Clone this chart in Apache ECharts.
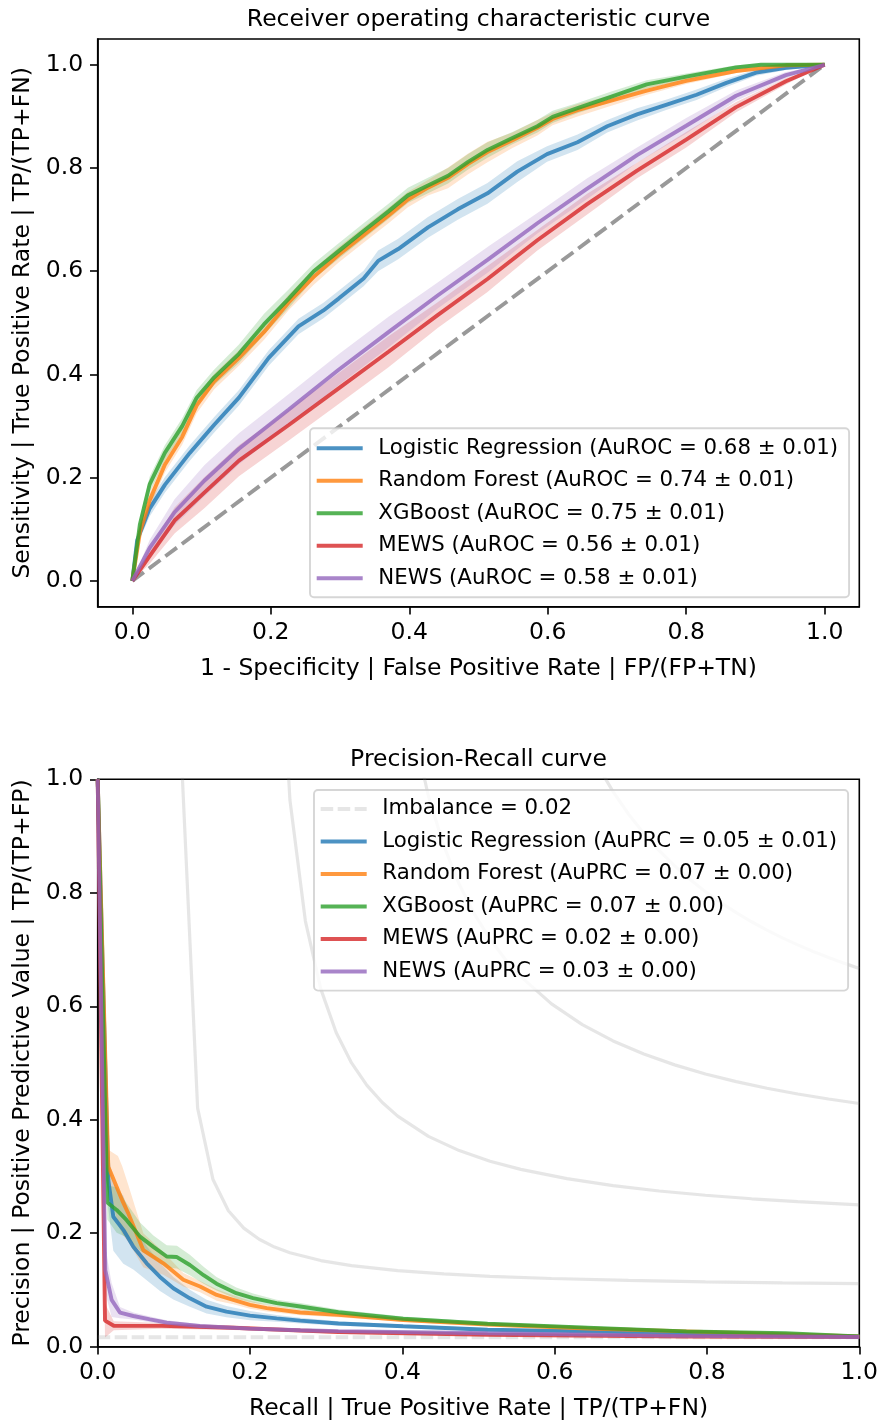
<!DOCTYPE html>
<html><head><meta charset="utf-8">
<script src="https://cdn.jsdelivr.net/npm/echarts@6/dist/echarts.min.js"></script>
<style>html,body{margin:0;padding:0;background:#fff}#c{width:880px;height:1420px}</style>
</head><body><div id="c"></div>
<script>
// ---------------- DATA ----------------
const tickValues = [0, 0.2, 0.4, 0.6, 0.8, 1.0];

const rocTitle = 'Receiver operating characteristic curve';
const rocXName = '1 - Specificity | False Positive Rate | FP/(FP+TN)';
const rocYName = 'Sensitivity | True Positive Rate | TP/(TP+FN)';
const prTitle = 'Precision-Recall curve';
const prXName = 'Recall | True Positive Rate | TP/(TP+FN)';
const prYName = 'Precision | Positive Predictive Value | TP/(TP+FP)';

const rocNames = [
  'Logistic Regression (AuROC = 0.68 ± 0.01)',
  'Random Forest (AuROC = 0.74 ± 0.01)',
  'XGBoost (AuROC = 0.75 ± 0.01)',
  'MEWS (AuROC = 0.56 ± 0.01)',
  'NEWS (AuROC = 0.58 ± 0.01)'
];
const prNames = [
  'Logistic Regression (AuPRC = 0.05 ± 0.01)',
  'Random Forest (AuPRC = 0.07 ± 0.00)',
  'XGBoost (AuPRC = 0.07 ± 0.00)',
  'MEWS (AuPRC = 0.02 ± 0.00)',
  'NEWS (AuPRC = 0.03 ± 0.00)'
];
const imbalanceName = 'Imbalance = 0.02';
const imbalanceX = [0, 1];
const imbalanceY = [0.0166, 0.0166];
const chanceX = [0, 1];
const chanceY = [0, 1];

// ROC: Logistic Regression
const rocLR_x = [0, 0.007, 0.025, 0.047, 0.083, 0.118, 0.154, 0.197, 0.24, 0.276, 0.298, 0.334, 0.355, 0.384, 0.427, 0.47, 0.513, 0.556, 0.599, 0.643, 0.686, 0.729, 0.772, 0.815, 0.858, 0.901, 0.944, 1.0];
const rocLR_y = [0, 0.079, 0.14, 0.186, 0.248, 0.302, 0.355, 0.432, 0.493, 0.524, 0.547, 0.586, 0.62, 0.643, 0.685, 0.72, 0.751, 0.793, 0.827, 0.85, 0.881, 0.904, 0.923, 0.942, 0.965, 0.985, 0.994, 1.0];
const rocLR_sd = [0, 0.01, 0.015, 0.015, 0.015, 0.015, 0.015, 0.015, 0.015, 0.015, 0.015, 0.015, 0.02, 0.02, 0.02, 0.02, 0.02, 0.02, 0.015, 0.015, 0.012, 0.012, 0.01, 0.01, 0.008, 0.006, 0.004, 0];
// ROC: Random Forest
const rocRF_x = [0, 0.011, 0.025, 0.047, 0.072, 0.093, 0.118, 0.154, 0.19, 0.226, 0.262, 0.298, 0.334, 0.37, 0.398, 0.427, 0.456, 0.485, 0.513, 0.549, 0.585, 0.607, 0.643, 0.693, 0.743, 0.80, 0.872, 0.944, 1.0];
const rocRF_y = [0, 0.094, 0.156, 0.225, 0.279, 0.34, 0.386, 0.432, 0.482, 0.54, 0.589, 0.632, 0.67, 0.708, 0.739, 0.762, 0.781, 0.808, 0.831, 0.854, 0.878, 0.895, 0.912, 0.931, 0.95, 0.969, 0.988, 0.999, 1.0];
const rocRF_sd = [0, 0.012, 0.015, 0.015, 0.015, 0.015, 0.015, 0.015, 0.015, 0.015, 0.015, 0.015, 0.015, 0.015, 0.015, 0.015, 0.02, 0.02, 0.02, 0.015, 0.015, 0.012, 0.012, 0.01, 0.008, 0.006, 0.004, 0.002, 0];
// ROC: XGBoost
const rocXGB_x = [0, 0.011, 0.025, 0.047, 0.072, 0.093, 0.118, 0.154, 0.19, 0.226, 0.262, 0.298, 0.334, 0.37, 0.398, 0.427, 0.456, 0.485, 0.513, 0.549, 0.585, 0.607, 0.643, 0.693, 0.743, 0.80, 0.872, 0.908, 1.0];
const rocXGB_y = [0, 0.11, 0.187, 0.248, 0.30, 0.355, 0.394, 0.44, 0.497, 0.547, 0.60, 0.639, 0.678, 0.716, 0.747, 0.766, 0.785, 0.812, 0.835, 0.858, 0.881, 0.899, 0.916, 0.939, 0.962, 0.977, 0.995, 1.0, 1.0];
const rocXGB_sd = [0, 0.012, 0.015, 0.015, 0.015, 0.015, 0.015, 0.018, 0.02, 0.018, 0.015, 0.015, 0.015, 0.015, 0.015, 0.015, 0.015, 0.015, 0.015, 0.012, 0.012, 0.012, 0.01, 0.01, 0.008, 0.006, 0.004, 0.002, 0];
// ROC: MEWS
const rocMEWS_x = [0, 0.025, 0.061, 0.104, 0.154, 0.226, 0.298, 0.37, 0.441, 0.513, 0.585, 0.657, 0.729, 0.80, 0.872, 0.944, 1.0];
const rocMEWS_y = [0, 0.048, 0.117, 0.171, 0.233, 0.302, 0.373, 0.444, 0.515, 0.585, 0.66, 0.73, 0.795, 0.855, 0.918, 0.968, 1.0];
const rocMEWS_sd = [0, 0.015, 0.025, 0.03, 0.03, 0.03, 0.03, 0.03, 0.025, 0.025, 0.02, 0.02, 0.015, 0.015, 0.01, 0.006, 0];
// ROC: NEWS
const rocNEWS_x = [0, 0.025, 0.061, 0.104, 0.154, 0.226, 0.298, 0.37, 0.441, 0.513, 0.585, 0.657, 0.729, 0.80, 0.872, 0.944, 1.0];
const rocNEWS_y = [0, 0.064, 0.133, 0.194, 0.256, 0.332, 0.409, 0.482, 0.553, 0.622, 0.693, 0.76, 0.825, 0.882, 0.94, 0.98, 1.0];
const rocNEWS_sd = [0, 0.015, 0.025, 0.03, 0.03, 0.03, 0.03, 0.03, 0.025, 0.025, 0.02, 0.02, 0.015, 0.015, 0.01, 0.006, 0];

// PR: Logistic Regression
const prLR_x = [0, 0.0139, 0.0205, 0.0336, 0.0468, 0.0643, 0.0818, 0.0993, 0.121, 0.143, 0.169, 0.200, 0.235, 0.266, 0.316, 0.401, 0.512, 0.643, 0.773, 0.903, 1.0];
const prLR_y = [1.0, 0.294, 0.229, 0.206, 0.176, 0.147, 0.123, 0.103, 0.0853, 0.0706, 0.0618, 0.0547, 0.050, 0.046, 0.041, 0.036, 0.030, 0.027, 0.0236, 0.020, 0.018];
const prLR_sd = [0, 0.05, 0.06, 0.06, 0.04, 0.03, 0.025, 0.02, 0.015, 0.012, 0.01, 0.008, 0.006, 0.005, 0.004, 0.003, 0.003, 0.002, 0.002, 0.001, 0];
// PR: Random Forest
const prRF_x = [0, 0.0139, 0.0266, 0.0322, 0.0402, 0.0599, 0.0862, 0.1124, 0.1344, 0.1563, 0.178, 0.200, 0.222, 0.266, 0.316, 0.401, 0.512, 0.643, 0.773, 0.903, 1.0];
const prRF_y = [1.0, 0.317, 0.276, 0.258, 0.235, 0.170, 0.147, 0.118, 0.106, 0.0912, 0.0826, 0.0738, 0.0679, 0.0603, 0.056, 0.047, 0.039, 0.032, 0.027, 0.022, 0.018];
const prRF_sd = [0, 0.03, 0.06, 0.06, 0.05, 0.03, 0.02, 0.012, 0.01, 0.01, 0.008, 0.007, 0.006, 0.005, 0.004, 0.003, 0.003, 0.002, 0.002, 0.001, 0];
// PR: XGBoost
const prXGB_x = [0, 0.0126, 0.0249, 0.038, 0.0556, 0.0731, 0.0906, 0.104, 0.121, 0.139, 0.156, 0.182, 0.204, 0.235, 0.266, 0.316, 0.401, 0.512, 0.643, 0.773, 0.903, 1.0];
const prXGB_y = [1.0, 0.254, 0.241, 0.223, 0.194, 0.176, 0.159, 0.158, 0.144, 0.126, 0.111, 0.0944, 0.0856, 0.0767, 0.0708, 0.0607, 0.0492, 0.0405, 0.0337, 0.027, 0.0236, 0.018];
const prXGB_sd = [0, 0.03, 0.04, 0.03, 0.025, 0.02, 0.02, 0.02, 0.018, 0.015, 0.012, 0.01, 0.008, 0.006, 0.006, 0.005, 0.004, 0.003, 0.003, 0.002, 0.001, 0];
// PR: MEWS
const prMEWS_x = [0, 0.0096, 0.0211, 0.084, 0.178, 0.266, 0.316, 0.512, 0.773, 1.0];
const prMEWS_y = [1.0, 0.046, 0.037, 0.0367, 0.0335, 0.0285, 0.026, 0.021, 0.018, 0.017];
const prMEWS_sd = [0, 0.03, 0.008, 0.005, 0.004, 0.003, 0.003, 0.002, 0.001, 0];
// PR: NEWS
const prNEWS_x = [0, 0.0100, 0.0183, 0.0293, 0.0468, 0.0687, 0.0906, 0.134, 0.200, 0.266, 0.316, 0.512, 0.773, 1.0];
const prNEWS_y = [1.0, 0.135, 0.0824, 0.060, 0.0541, 0.0482, 0.0424, 0.0365, 0.0318, 0.0289, 0.0275, 0.0236, 0.019, 0.017];
const prNEWS_sd = [0, 0.04, 0.03, 0.01, 0.006, 0.005, 0.004, 0.003, 0.003, 0.002, 0.002, 0.002, 0.001, 0];

// iso-F1 reference curves (recall, precision) for F1 = 0.2, 0.4, 0.6, 0.8
const isoF1_02 = [[0.1110,1.009],[0.1312,0.4205],[0.1514,0.2946],[0.1716,0.2397],[0.1918,0.2089],[0.2120,0.1893],[0.2322,0.1756],[0.2524,0.1656],[0.2929,0.1518],[0.3333,0.1429],[0.3939,0.1340],[0.4545,0.1282],[0.5151,0.1241],[0.5959,0.1202],[0.6969,0.1168],[0.7980,0.1143],[0.8990,0.1125],[1.0,0.1111]];
const isoF1_04 = [[0.2120,3.533],[0.2322,1.442],[0.2524,0.9634],[0.2727,0.7502],[0.2929,0.6306],[0.3131,0.5537],[0.3333,0.5001],[0.3535,0.4606],[0.3737,0.4303],[0.3939,0.4063],[0.4343,0.3707],[0.4747,0.3456],[0.5151,0.3269],[0.5555,0.3125],[0.6161,0.2961],[0.6767,0.2839],[0.7373,0.2744],[0.7980,0.2669],[0.8586,0.2607],[0.9192,0.2556],[1.0,0.25]];
const isoF1_06 = [[0.3131,7.17],[0.3333,3.003],[0.3535,1.982],[0.3737,1.521],[0.3939,1.258],[0.4141,1.089],[0.4343,0.9701],[0.4545,0.8825],[0.4747,0.8152],[0.4949,0.7618],[0.5151,0.7184],[0.5353,0.6825],[0.5555,0.6523],[0.5959,0.6042],[0.6363,0.5676],[0.6767,0.5389],[0.7171,0.5158],[0.7576,0.4967],[0.7980,0.4807],[0.8384,0.4672],[0.8788,0.4555],[0.9192,0.4453],[0.9596,0.4365],[1.0,0.4286]];
const isoF1_08 = [[0.4141,11.75],[0.4343,5.065],[0.4545,3.336],[0.4747,2.542],[0.4949,2.086],[0.5151,1.790],[0.5353,1.583],[0.5555,1.429],[0.5757,1.311],[0.5959,1.217],[0.6161,1.140],[0.6363,1.077],[0.6565,1.024],[0.6767,0.9782],[0.6969,0.9389],[0.7171,0.9046],[0.7373,0.8744],[0.7576,0.8474],[0.7778,0.8235],[0.7980,0.8020],[0.8182,0.7826],[0.8384,0.7650],[0.8586,0.7489],[0.8788,0.7342],[0.8990,0.7206],[0.9192,0.7082],[0.9394,0.6966],[0.9596,0.6859],[0.9798,0.6760],[1.0,0.6667]];

// ---------------- STYLE / BUILD ----------------
const F = 'DejaVu Sans';
const RGB = ['31,119,180', '255,127,14', '44,160,44', '214,39,40', '148,103,189'];
const LW = 3.9;

const rocSets = [[rocLR_x, rocLR_y, rocLR_sd], [rocRF_x, rocRF_y, rocRF_sd], [rocXGB_x, rocXGB_y, rocXGB_sd], [rocMEWS_x, rocMEWS_y, rocMEWS_sd], [rocNEWS_x, rocNEWS_y, rocNEWS_sd]];
const prSets = [[prLR_x, prLR_y, prLR_sd], [prRF_x, prRF_y, prRF_sd], [prXGB_x, prXGB_y, prXGB_sd], [prMEWS_x, prMEWS_y, prMEWS_sd], [prNEWS_x, prNEWS_y, prNEWS_sd]];

function pairs(xs, ys) { return xs.map((x, i) => [x, ys[i]]); }

function band(xs, ys, sd, rgb, ax) {
  return {
    type: 'custom', xAxisIndex: ax, yAxisIndex: ax, silent: true, clip: true, z: 1,
    data: [[xs[0], ys[0]]],
    renderItem: function (params, api) {
      const pts = [];
      for (let i = 0; i < xs.length; i++) pts.push(api.coord([xs[i], ys[i] + sd[i]]));
      for (let i = xs.length - 1; i >= 0; i--) pts.push(api.coord([xs[i], ys[i] - sd[i]]));
      return { type: 'polygon', shape: { points: pts }, style: { fill: 'rgba(' + rgb + ',0.2)' } };
    }
  };
}
function line(name, data, color, ax, extra) {
  return Object.assign({
    type: 'line', name: name, xAxisIndex: ax, yAxisIndex: ax, data: data,
    showSymbol: false, symbol: 'none', silent: true, clip: true, z: 3,
    color: color, lineStyle: { color: color, width: LW }
  }, extra || {});
}

const series = [];
// ROC chart
series.push(line('chance', pairs(chanceX, chanceY), 'rgba(128,128,128,0.8)', 0, { z: 2, lineStyle: { color: 'rgba(128,128,128,0.8)', width: LW, type: [14.4, 6.2] } }));
rocSets.forEach((s, i) => series.push(band(s[0], s[1], s[2], RGB[i], 0)));
rocSets.forEach((s, i) => series.push(line(rocNames[i], pairs(s[0], s[1]), 'rgba(' + RGB[i] + ',0.8)', 0)));
// PR chart
[isoF1_02, isoF1_04, isoF1_06, isoF1_08].forEach(c => series.push(line('iso', c, 'rgba(128,128,128,0.2)', 1, { z: 1, lineStyle: { color: 'rgba(128,128,128,0.2)', width: 3.2 } })));
series.push(line(imbalanceName, pairs(imbalanceX, imbalanceY), 'rgba(128,128,128,0.2)', 1, { z: 1, lineStyle: { color: 'rgba(128,128,128,0.2)', width: LW, type: [12.5, 4.5] } }));
prSets.forEach((s, i) => series.push(band(s[0], s[1], s[2], RGB[i], 1)));
prSets.forEach((s, i) => series.push(line(prNames[i], pairs(s[0], s[1]), 'rgba(' + RGB[i] + ',0.8)', 1)));

const fs = 23.5;
function xAx(gi, min, max, name) {
  return {
    type: 'value', gridIndex: gi, min: min, max: max,
    name: name, nameLocation: 'middle', nameGap: 50.6,
    nameTextStyle: { fontFamily: F, fontSize: fs, color: '#000' },
    axisLine: { show: true, onZero: false, lineStyle: { color: '#000', width: 1.6 } }, splitLine: { show: false },
    axisTick: { show: true, inside: false, length: 7.7, customValues: tickValues, lineStyle: { color: '#000', width: 1.6 } },
    axisLabel: { show: true, customValues: tickValues, margin: 14.5, fontFamily: F, fontSize: fs, color: '#000', showMinLabel: true, showMaxLabel: true, hideOverlap: false, formatter: v => Number(v).toFixed(1) }
  };
}
function yAx(gi, min, max, name) {
  const a = xAx(gi, min, max, name);
  a.nameGap = 60.7;
  return a;
}
const titleStyle = { fontFamily: F, fontSize: fs, fontWeight: 'normal', color: '#000' };
const legendCommon = {
  orient: 'vertical', itemWidth: 46, itemHeight: 4, itemGap: 8.5, icon: 'rect',
  selectedMode: false, backgroundColor: 'rgba(255,255,255,0.8)',
  borderColor: 'rgba(204,204,204,0.8)', borderWidth: 1.9, borderRadius: 4,
  itemStyle: { borderWidth: 0 },
  textStyle: { fontFamily: F, fontSize: 21.3, lineHeight: 24, color: '#000', padding: [0, 0, 0, 10.6] }
};

const option = {
  animation: false,
  backgroundColor: '#fff',
  textStyle: { fontFamily: F },
  title: [
    { text: rocTitle, left: 478.5, top: 7.5, textAlign: 'center', padding: 0, textStyle: titleStyle },
    { text: prTitle, left: 478.5, top: 747.8, textAlign: 'center', padding: 0, textStyle: titleStyle }
  ],
  grid: [
    { left: 97.7, top: 39, width: 761.6, height: 567.7, show: true, borderColor: '#000', borderWidth: 1.6, backgroundColor: 'transparent', containLabel: false, outerBoundsMode: 'none' },
    { left: 97.7, top: 779.3, width: 761.6, height: 567.4, show: true, borderColor: '#000', borderWidth: 1.6, backgroundColor: 'transparent', containLabel: false, outerBoundsMode: 'none' }
  ],
  xAxis: [xAx(0, -0.05, 1.05, rocXName), xAx(1, 0, 1, prXName)],
  yAxis: [yAx(0, -0.05, 1.05, rocYName), yAx(1, 0, 1, prYName)],
  legend: [
    Object.assign({}, legendCommon, { left: 310, top: 428.3, padding: [8, 11, 7, 6.7], data: rocNames }),
    Object.assign({}, legendCommon, { left: 314, top: 790, padding: [6.9, 11, 7.2, 6.7],
      data: [{ name: imbalanceName, icon: 'path://M0,0H12.5V4H0Z M17,0H29.5V4H17Z M34,0H46V4H34Z' }].concat(prNames) })
  ],
  series: series
};
const chart = echarts.init(document.getElementById('c'), null, { renderer: 'canvas', width: 880, height: 1420 });
chart.setOption(option);
</script></body></html>
